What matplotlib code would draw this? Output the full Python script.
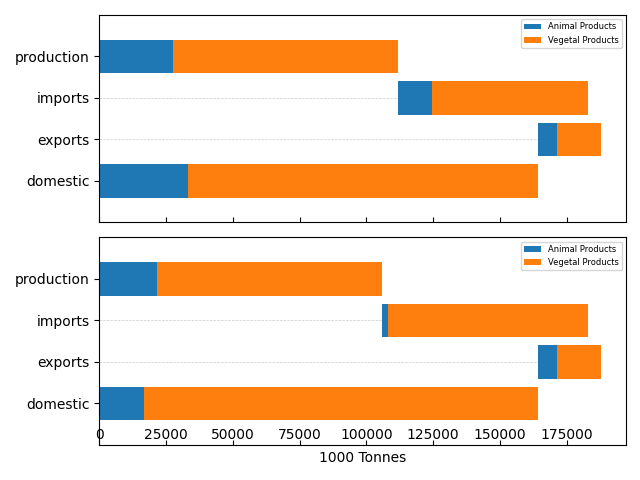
import matplotlib
matplotlib.use("Agg")
import matplotlib.pyplot as plt
import numpy as np

categories = ["domestic", "exports", "imports", "production"]

# top panel
top_animal = [33200, 7100, 12900, 27500]
top_vegetal = [131200, 16300, 58200, 84300]
# bottom panel
bot_animal = [16700, 7100, 2200, 21600]
bot_vegetal = [147700, 16300, 74700, 84400]


def lefts_for(animal, vegetal):
    tot = [a + v for a, v in zip(animal, vegetal)]
    # domestic from 0, exports from domestic total, imports from production total, production from 0
    return [0, tot[0], tot[3], 0]


fig, axes = plt.subplots(2, 1, sharex=True, figsize=(6.4, 4.8), dpi=100)
for ax, animal, vegetal in [(axes[0], top_animal, top_vegetal), (axes[1], bot_animal, bot_vegetal)]:
    y = np.arange(len(categories))
    left = np.array(lefts_for(animal, vegetal))
    ax.hlines(y, 0, left, colors="#cccccc", linestyles="--", linewidth=0.5, zorder=0)
    ax.barh(y, animal, left=left, height=0.8, color="#1f77b4", label="Animal Products")
    ax.barh(y, vegetal, left=left + np.array(animal), height=0.8, color="#ff7f0e", label="Vegetal Products")
    ax.set_yticks(y)
    ax.set_yticklabels(categories)
    ax.set_ylim(-1, 4)
    ax.tick_params(axis="x", direction="in", pad=-12)
    ax.legend(loc="upper right", fontsize=6)

axes[1].set_xlabel("1000 Tonnes")
fig.subplots_adjust(left=0.155, right=0.978, top=0.969, bottom=0.073, hspace=0.072)
fig.savefig("out.png")
